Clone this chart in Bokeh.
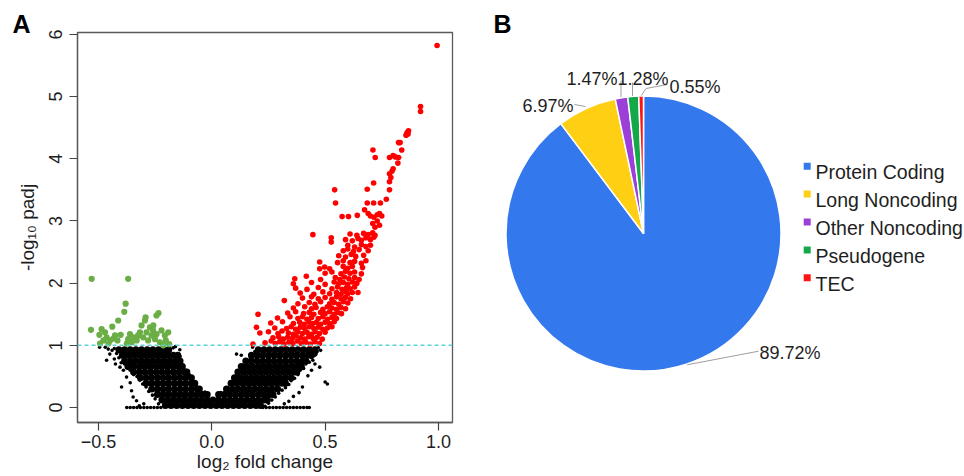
import math
from bokeh.plotting import figure
from bokeh.layouts import row
from bokeh.models import Range1d, FixedTicker, Span, ColumnDataSource, Title
from bokeh.core.properties import value
from bokeh.embed import file_html
from bokeh.resources import INLINE

# ---------------- data: volcano plot (panel A) ----------------
x_ticks = [-0.5, 0.0, 0.5, 1.0]
x_tick_labels = ["\u22120.5", "0.0", "0.5", "1.0"]
y_ticks = [0, 1, 2, 3, 4, 5, 6]
padj_cutoff = 1.0

# dense non-significant cloud, read row by row (y level, x positions)
black_dense_y = [0.035, 0.12, 0.21, 0.30, 0.39, 0.48, 0.57, 0.66, 0.75, 0.84, 0.93]
black_dense_x = [
    [-0.205, -0.18, -0.155, -0.13, -0.105, -0.08, -0.055, -0.03, -0.005, 0.02, 0.045, 0.07, 0.095, 0.12, 0.145, 0.17, 0.195, 0.215],
    [-0.22, -0.195, -0.17, -0.145, -0.12, -0.095, -0.07, -0.045, -0.02, 0.005, 0.03, 0.055, 0.08, 0.105, 0.13, 0.155, 0.18, 0.205, 0.23, 0.245],
    [-0.24, -0.215, -0.19, -0.165, -0.14, -0.115, -0.09, -0.065, -0.04, -0.02, 0.03, 0.055, 0.08, 0.105, 0.13, 0.155, 0.18, 0.205, 0.23, 0.255, 0.27],
    [-0.265, -0.24, -0.215, -0.19, -0.165, -0.14, -0.115, -0.09, -0.065, -0.055, 0.065, 0.09, 0.115, 0.14, 0.165, 0.19, 0.215, 0.24, 0.265, 0.29],
    [-0.29, -0.265, -0.24, -0.215, -0.19, -0.165, -0.14, -0.115, -0.09, -0.075, 0.085, 0.11, 0.135, 0.16, 0.185, 0.21, 0.235, 0.26, 0.285, 0.31, 0.325],
    [-0.315, -0.29, -0.265, -0.24, -0.215, -0.19, -0.165, -0.14, -0.115, -0.09, 0.10, 0.125, 0.15, 0.175, 0.20, 0.225, 0.25, 0.275, 0.30, 0.325, 0.35],
    [-0.345, -0.32, -0.295, -0.27, -0.245, -0.22, -0.195, -0.17, -0.145, -0.12, -0.11, 0.115, 0.14, 0.165, 0.19, 0.215, 0.24, 0.265, 0.29, 0.315, 0.34, 0.365, 0.375],
    [-0.37, -0.345, -0.32, -0.295, -0.27, -0.245, -0.22, -0.195, -0.17, -0.145, -0.13, 0.13, 0.155, 0.18, 0.205, 0.23, 0.255, 0.28, 0.305, 0.33, 0.355, 0.38, 0.395],
    [-0.385, -0.36, -0.335, -0.31, -0.285, -0.26, -0.235, -0.21, -0.185, -0.16, -0.14, 0.15, 0.175, 0.20, 0.225, 0.25, 0.275, 0.30, 0.325, 0.35, 0.375, 0.40, 0.415],
    [-0.395, -0.37, -0.345, -0.32, -0.295, -0.27, -0.245, -0.22, -0.195, -0.17, -0.15, 0.175, 0.20, 0.225, 0.25, 0.275, 0.30, 0.325, 0.35, 0.375, 0.40, 0.425, 0.44],
    [-0.41, -0.385, -0.36, -0.335, -0.31, -0.285, -0.26, -0.235, -0.21, -0.19, 0.205, 0.23, 0.255, 0.28, 0.305, 0.33, 0.355, 0.38, 0.405, 0.43, 0.455],
]
# scattered non-significant genes around and along the edges of the cloud
black_sparse = [
    (-0.457, 0.94), (-0.45, 0.86), (-0.464, 0.76), (-0.43, 0.78), (-0.405, 0.65), (-0.39, 0.60),
    (-0.376, 0.49), (-0.398, 0.33), (-0.354, 0.27), (-0.347, 0.17), (-0.332, 0.11), (-0.47, 0.97),
    (-0.44, 0.92), (-0.495, 0.97), (-0.425, 0.70), (-0.36, 0.40), (0.424, 0.51), (0.40, 0.33),
    (0.385, 0.24), (0.36, 0.18), (0.476, 0.65), (0.50, 0.41), (0.51, 0.38), (0.446, 0.76),
    (0.46, 0.86), (0.48, 0.92), (0.44, 0.60), (0.455, 0.70), (-0.141, 0.93), (-0.16, 0.98),
    (0.109, 0.86), (0.13, 0.84), (0.18, 0.97), (0.34, 0.10), (0.32, 0.06), (-0.30, 0.06), (-0.32, 0.03),
    (-0.235, 0.06), (-0.25, 0.14), (-0.262, 0.20), (-0.278, 0.26), (-0.29, 0.33), (-0.305, 0.38),
    (-0.318, 0.44), (-0.33, 0.50), (-0.345, 0.53), (-0.36, 0.60), (-0.372, 0.64), (-0.385, 0.70),
    (-0.40, 0.72), (-0.41, 0.80), (-0.42, 0.87), (-0.43, 0.95),
    (0.235, 0.02), (0.25, 0.07), (0.265, 0.12), (0.28, 0.17), (0.295, 0.23), (0.31, 0.28),
    (0.325, 0.32), (0.34, 0.37), (0.35, 0.43), (0.365, 0.47), (0.38, 0.53), (0.39, 0.60),
    (0.405, 0.63), (0.415, 0.70), (0.43, 0.73), (0.44, 0.80), (0.455, 0.84), (0.465, 0.90), (0.47, 0.96),
    (-0.03, 0.25), (-0.05, 0.31), (-0.07, 0.40), (-0.085, 0.46), (-0.10, 0.53), (-0.115, 0.60),
    (-0.125, 0.68), (-0.135, 0.75), (-0.14, 0.82), (-0.17, 0.96),
    (0.04, 0.24), (0.06, 0.30), (0.08, 0.37), (0.095, 0.44), (0.11, 0.52), (0.125, 0.60),
    (0.14, 0.67), (0.155, 0.74), (0.17, 0.80), (0.19, 0.90),
]
# genes with padj = 1 (baseline row)
black_base_x = [-0.375, -0.36, -0.345, -0.33, -0.315, -0.30, -0.285, -0.27, -0.255, -0.24, -0.225,
                0.225, 0.24, 0.255, 0.27, 0.285, 0.30, 0.315, 0.33, 0.345, 0.36, 0.375, 0.39, 0.405, 0.42, 0.43]

# down-regulated significant genes
green_pts = [
    (-0.530, 2.07), (-0.369, 2.07), (-0.380, 1.67), (-0.386, 1.54), (-0.413, 1.40), (-0.439, 1.30),
    (-0.533, 1.25), (-0.486, 1.26), (-0.471, 1.21), (-0.496, 1.17), (-0.464, 1.13), (-0.449, 1.08),
    (-0.434, 1.11), (-0.427, 1.16), (-0.416, 1.08), (-0.402, 1.17), (-0.478, 1.08), (-0.456, 1.03),
    (-0.493, 1.03), (-0.361, 1.18), (-0.369, 1.10), (-0.346, 1.13), (-0.353, 1.05), (-0.375, 1.03),
    (-0.331, 1.08), (-0.317, 1.21), (-0.310, 1.32), (-0.295, 1.40), (-0.292, 1.45), (-0.244, 1.48),
    (-0.235, 1.52), (-0.325, 1.16), (-0.303, 1.13), (-0.288, 1.21), (-0.281, 1.08), (-0.266, 1.16),
    (-0.259, 1.24), (-0.251, 1.10), (-0.273, 1.29), (-0.244, 1.18), (-0.229, 1.05), (-0.222, 1.24),
    (-0.207, 1.16), (-0.203, 1.08), (-0.192, 1.21), (-0.188, 1.02), (-0.214, 1.00), (-0.258, 1.32),
]

# up-regulated significant genes
red_pts = [
    (0.182, 1.02), (0.235, 1.04), (0.262, 1.07), (0.28, 1.03), (0.30, 1.06), (0.318, 1.02), (0.34, 1.05),
    (0.358, 1.03), (0.378, 1.07), (0.395, 1.03), (0.415, 1.05), (0.435, 1.02), (0.455, 1.06), (0.475, 1.03),
    (0.27, 1.12), (0.295, 1.14), (0.315, 1.10), (0.335, 1.13), (0.355, 1.11), (0.372, 1.15), (0.392, 1.12),
    (0.41, 1.10), (0.428, 1.14), (0.447, 1.11), (0.465, 1.13), (0.487, 1.10),
    (0.212, 1.20), (0.25, 1.22), (0.292, 1.19), (0.31, 1.23), (0.338, 1.20), (0.36, 1.18), (0.38, 1.22),
    (0.40, 1.19), (0.42, 1.21), (0.44, 1.18), (0.456, 1.22), (0.475, 1.19), (0.50, 1.21),
    (0.197, 1.29), (0.278, 1.28), (0.33, 1.27), (0.35, 1.30), (0.37, 1.26), (0.39, 1.29), (0.41, 1.27),
    (0.43, 1.30), (0.45, 1.27), (0.47, 1.29), (0.49, 1.26), (0.51, 1.28), (0.53, 1.30),
    (0.26, 1.36), (0.312, 1.38), (0.36, 1.35), (0.388, 1.37), (0.408, 1.34), (0.428, 1.38), (0.445, 1.35),
    (0.462, 1.37), (0.48, 1.34), (0.50, 1.37), (0.52, 1.35), (0.54, 1.38),
    (0.29, 1.44), (0.345, 1.46), (0.38, 1.43), (0.40, 1.46), (0.42, 1.42), (0.44, 1.45), (0.47, 1.43),
    (0.49, 1.46), (0.51, 1.42), (0.53, 1.45), (0.55, 1.43),
    (0.204, 1.50), (0.335, 1.52), (0.37, 1.54), (0.405, 1.51), (0.43, 1.53), (0.45, 1.50), (0.48, 1.53),
    (0.50, 1.51), (0.52, 1.54), (0.54, 1.50), (0.555, 1.53), (0.572, 1.51),
    (0.36, 1.60), (0.41, 1.62), (0.44, 1.59), (0.46, 1.61), (0.49, 1.58), (0.51, 1.62), (0.53, 1.60),
    (0.55, 1.58), (0.57, 1.61), (0.59, 1.59),
    (0.32, 1.72), (0.38, 1.67), (0.43, 1.69), (0.455, 1.66), (0.48, 1.70), (0.52, 1.67), (0.54, 1.69),
    (0.56, 1.66), (0.58, 1.70), (0.60, 1.68),
    (0.40, 1.76), (0.44, 1.78), (0.47, 1.75), (0.50, 1.77), (0.53, 1.74), (0.55, 1.78), (0.57, 1.75),
    (0.59, 1.77), (0.612, 1.75),
    (0.39, 1.84), (0.45, 1.82), (0.49, 1.86), (0.52, 1.83), (0.55, 1.85), (0.57, 1.82), (0.59, 1.86),
    (0.60, 1.83), (0.62, 1.85), (0.645, 1.85),
    (0.37, 1.92), (0.42, 1.90), (0.47, 1.93), (0.53, 1.91), (0.555, 1.94), (0.575, 1.90), (0.595, 1.93),
    (0.61, 1.91), (0.63, 1.94),
    (0.36, 1.99), (0.44, 2.01), (0.50, 1.98), (0.54, 2.02), (0.56, 1.99), (0.58, 2.01), (0.60, 1.98),
    (0.62, 2.02), (0.64, 2.00),
    (0.366, 2.07), (0.417, 2.11), (0.48, 2.06), (0.545, 2.09), (0.565, 2.06), (0.585, 2.10), (0.605, 2.07),
    (0.63, 2.09), (0.65, 2.06),
    (0.50, 2.16), (0.53, 2.18), (0.57, 2.15), (0.59, 2.19), (0.61, 2.16), (0.63, 2.18), (0.66, 2.15),
    (0.476, 2.23), (0.498, 2.26), (0.52, 2.23), (0.58, 2.27), (0.60, 2.24), (0.62, 2.27), (0.665, 2.25),
    (0.476, 2.34), (0.555, 2.33), (0.58, 2.36), (0.61, 2.33), (0.63, 2.35), (0.66, 2.32), (0.68, 2.36),
    (0.56, 2.44), (0.59, 2.42), (0.615, 2.46), (0.635, 2.43), (0.67, 2.45),
    (0.58, 2.52), (0.60, 2.55), (0.625, 2.51), (0.65, 2.54), (0.69, 2.52),
    (0.60, 2.61), (0.63, 2.58), (0.66, 2.62), (0.68, 2.59), (0.70, 2.61),
    (0.527, 2.73), (0.527, 2.66), (0.59, 2.70), (0.62, 2.68), (0.645, 2.72), (0.66, 2.69), (0.68, 2.73),
    (0.70, 2.70), (0.715, 2.74),
    (0.446, 2.78), (0.61, 2.79), (0.64, 2.77), (0.67, 2.80), (0.69, 2.78), (0.71, 2.81), (0.72, 2.77),
    (0.72, 2.90), (0.74, 2.93), (0.71, 2.96), (0.73, 3.00), (0.575, 3.07), (0.603, 3.07), (0.642, 3.09),
    (0.674, 3.18), (0.69, 3.12), (0.70, 3.08), (0.715, 3.06), (0.73, 3.10), (0.74, 3.12), (0.75, 3.08),
    (0.546, 3.29), (0.686, 3.29), (0.714, 3.29), (0.744, 3.29), (0.77, 3.35), (0.542, 3.50), (0.686, 3.51),
    (0.784, 3.50), (0.714, 3.61), (0.784, 3.63), (0.79, 3.70), (0.784, 3.76), (0.795, 3.80), (0.80, 3.84),
    (0.821, 3.93), (0.711, 4.14), (0.721, 4.02), (0.784, 4.02), (0.80, 4.05), (0.81, 4.03), (0.824, 4.02),
    (0.838, 4.14), (0.824, 4.26), (0.831, 4.26), (0.857, 4.38), (0.862, 4.42), (0.868, 4.45), (0.866, 4.40),
    (0.921, 4.84), (0.921, 4.76), (0.994, 5.82),
]

# ---------------- data: biotype pie (panel B) ----------------
biotypes = ["Protein Coding", "Long Noncoding", "Other Noncoding", "Pseudogene", "TEC"]
shares = [89.72, 6.97, 1.47, 1.28, 0.55]
biotype_colors = ["#3478EE", "#FFCF14", "#9B3FD8", "#14A84A", "#FF1414"]

FONT = "Liberation Sans"
TXT = "#1e1e1e"

# ================= panel A =================
# frame: x 77..452, y 32..422 of the 964x476 picture
pa = figure(width=480, height=476, output_backend="svg", toolbar_location=None,
            x_range=Range1d(-0.5925, 1.062), y_range=Range1d(-0.24, 6.03),
            min_border_left=77, min_border_right=28, min_border_top=32, min_border_bottom=54,
            title=None)
pa.grid.visible = False
pa.outline_line_color = "#5a5a5a"
pa.outline_line_width = 1.3
pa.background_fill_color = "white"
pa.border_fill_color = "white"

for ax in (pa.xaxis[0], pa.yaxis[0]):
    ax.axis_line_color = "#5a5a5a"
    ax.axis_line_width = 1.3
    ax.major_tick_line_color = "#444444"
    ax.major_tick_line_width = 1.2
    ax.major_tick_in = 0
    ax.major_tick_out = 8
    ax.minor_tick_line_color = None
    ax.major_label_text_font = FONT
    ax.major_label_text_font_size = "18px"
    ax.major_label_text_color = TXT
    ax.axis_label_text_font = FONT
    ax.axis_label_text_font_size = "19px"
    ax.axis_label_text_font_style = "normal"
    ax.axis_label_text_color = TXT

pa.xaxis[0].ticker = FixedTicker(ticks=x_ticks)
pa.xaxis[0].major_label_overrides = {t: s for t, s in zip(x_ticks, x_tick_labels)}
pa.xaxis[0].major_label_standoff = 4
pa.xaxis[0].axis_label = "log\u2082 fold change"
pa.xaxis[0].axis_label_standoff = 0

pa.yaxis[0].ticker = FixedTicker(ticks=y_ticks)
pa.yaxis[0].major_label_orientation = "vertical"
pa.yaxis[0].major_label_standoff = 7
pa.yaxis[0].axis_label = "-log\u2081\u2080 padj"
pa.yaxis[0].axis_label_standoff = 9

pa.title = Title(text="A", align="left", offset=-65, standoff=-10, vertical_align="bottom",
                 text_font=FONT, text_font_style="bold", text_font_size="25px", text_color="black")

bx, by = [], []
for yv, xs in zip(black_dense_y, black_dense_x):
    bx.extend(xs)
    by.extend([yv] * len(xs))
pa.scatter(bx, by, size=7, color="black", line_width=0)
pa.scatter([p[0] for p in black_sparse], [p[1] for p in black_sparse], size=3.6, color="black", line_width=0)
pa.scatter(black_base_x, [0.0] * len(black_base_x), size=3.6, color="black", line_width=0)
pa.scatter([p[0] for p in green_pts], [p[1] for p in green_pts], size=6.2, color="#6BAE45", line_width=0)
pa.scatter([p[0] for p in red_pts], [p[1] for p in red_pts], size=5.6, color="#FF0000", line_width=0)

pa.add_layout(Span(location=padj_cutoff, dimension="width", line_color="#5ED3D6",
                   line_dash="4 3", line_width=1.5))

# ================= panel B =================
# frame: x 480..964, y 32..422 (picture pixels; data y = -pixel y)
pb = figure(width=484, height=476, output_backend="svg", toolbar_location=None,
            x_range=Range1d(480, 964), y_range=Range1d(-422, -32),
            x_axis_type=None, y_axis_type=None,
            min_border_left=0, min_border_right=0, min_border_top=32, min_border_bottom=54,
            title=None)
pb.grid.visible = False
pb.outline_line_color = None
pb.background_fill_color = "white"
pb.border_fill_color = "white"
pb.title = Title(text="B", align="left", offset=13, standoff=-10, vertical_align="bottom",
                 text_font=FONT, text_font_style="bold", text_font_size="25px", text_color="black")

cx, cy, r = 643.0, -233.0, 137.5
starts, ends = [], []
a = 90.0
for s in shares:
    starts.append(math.radians(a))
    a -= s / sum(shares) * 360.0
    ends.append(math.radians(a))
src = ColumnDataSource(dict(start=starts, end=ends, color=biotype_colors))
pb.wedge(x=cx, y=cy, radius=r, start_angle="start", end_angle="end", direction="clock",
         fill_color="color", line_color="white", line_width=1.5, source=src)

# leader lines (picture pixel coordinates, y negated)
leaders_x = [[686.7, 758.0], [574.0, 585.0], [620.5, 620.5], [632.0, 632.0], [640.8, 645.5, 667.0]]
leaders_y = [[-364.3, -350.7], [-104.0, -106.0], [-80.0, -96.5], [-82.0, -95.5], [-95.0, -88.0, -84.0]]
pb.multi_line(leaders_x, leaders_y, line_color="#9E9E9E", line_width=1)

label_x = [759.0, 522.0, 566.0, 617.0, 669.0]
label_y = [-352.0, -105.0, -78.0, -78.0, -86.0]
pb.text(x=label_x, y=label_y, text=[f"{s:.2f}%" for s in shares],
        text_font=value(FONT), text_font_size="18px", text_color=TXT,
        text_align="left", text_baseline="alphabetic")

# legend
leg_y = [-(165.7 + 27.9 * i) for i in range(len(biotypes))]
pb.scatter([806.7] * len(biotypes), leg_y, marker="square", size=7, color=biotype_colors, line_width=0)
pb.text(x=[815.0] * len(biotypes), y=[v - 6.0 for v in leg_y], text=biotypes,
        text_font=value(FONT), text_font_size="19.5px", text_color=TXT,
        text_align="left", text_baseline="alphabetic")

layout = row(pa, pb)
open("out.html", "w").write(file_html(layout, INLINE))
